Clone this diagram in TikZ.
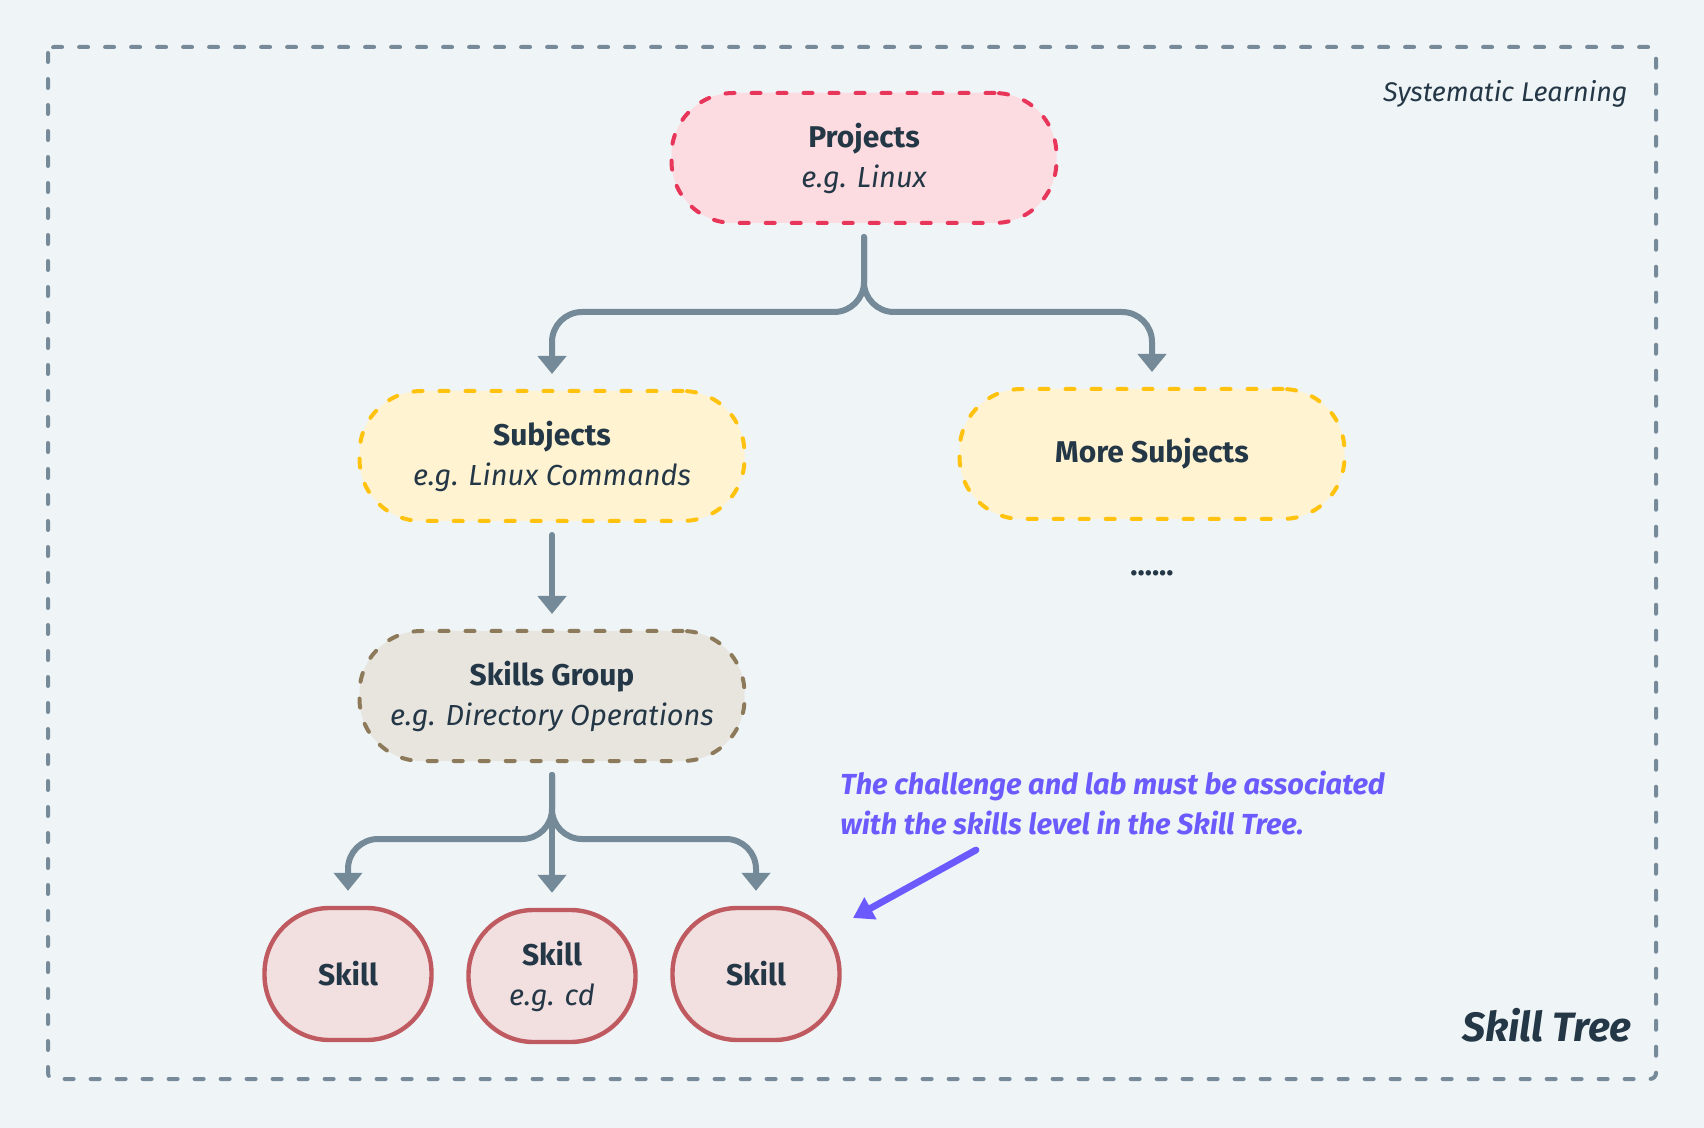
\documentclass[tikz,border=0pt]{standalone}
\usepackage{fontspec}
\setmainfont{Fira Sans}
\usetikzlibrary{arrows.meta}
\definecolor{bgc}{HTML}{EFF4F7}
\definecolor{framec}{HTML}{778A99}
\definecolor{connc}{HTML}{758A98}
\definecolor{darkc}{HTML}{243746}
\definecolor{projfill}{HTML}{FDDCE1}
\definecolor{projdraw}{HTML}{E8365A}
\definecolor{subjfill}{HTML}{FFF3D1}
\definecolor{subjdraw}{HTML}{FFC20E}
\definecolor{sgfill}{HTML}{E8E5DF}
\definecolor{sgdraw}{HTML}{8C7A5B}
\definecolor{skfill}{HTML}{F2DFE0}
\definecolor{skdraw}{HTML}{BF5B60}
\definecolor{notec}{HTML}{6B5BFF}
\newcommand\nlab[1]{{\bfseries #1}}
\newcommand\nsub[1]{{\fontsize{14.5}{20}\selectfont\itshape #1}}
\tikzset{
  bigbox/.style={rectangle, rounded corners=31pt, minimum width=192.5pt, minimum height=65pt,
    line width=2pt, dash pattern=on 4.5pt off 8.5pt, line cap=round, align=center,
    text=darkc, inner sep=0pt, font=\fontsize{15}{20}\selectfont},
  projbox/.style={bigbox, draw=projdraw, fill=projfill},
  subjbox/.style={bigbox, draw=subjdraw, fill=subjfill},
  sgbox/.style={bigbox, draw=sgdraw, fill=sgfill},
  skillbox/.style={rectangle, rounded corners=32.5pt, minimum width=83.5pt, minimum height=66pt,
    line width=2.2pt, draw=skdraw, fill=skfill, align=center, text=darkc, inner sep=0pt,
    font=\fontsize{15}{20}\selectfont},
  conn/.style={draw=connc, line width=3pt, line cap=round, rounded corners=15pt,
    -{Triangle[width=14pt,length=9pt]}, shorten <=6pt, shorten >=7.5pt},
  notearrow/.style={draw=notec, line width=3.4pt, line cap=round,
    -{Triangle[width=12pt,length=10pt]}},
  frame/.style={draw=framec, line width=2pt, dash pattern=on 4.5pt off 8.5pt,
    line cap=round, rounded corners=3pt}
}
\begin{document}
\begin{tikzpicture}[x=0.5pt,y=-0.5pt]
\fill[bgc] (0,0) rectangle (1704,1128);
\useasboundingbox (0,0) rectangle (1704,1128);
\draw[frame] (48,47) rectangle (1656,1079);

\node[projbox] (proj) at (864,158) {\nlab{Projects}\\\nsub{e.g. Linux}};
\node[subjbox] (subj) at (552,456) {\nlab{Subjects}\\\nsub{e.g. Linux Commands}};
\node[subjbox] (more) at (1152,454) {\nlab{More Subjects}};
\node[sgbox] (sg) at (552,696) {\nlab{Skills Group}\\\nsub{e.g. Directory Operations}};
\node[skillbox] (sk1) at (348,974) {\nlab{Skill}};
\node[skillbox] (sk2) at (552,976) {\nlab{Skill}\\\nsub{e.g. cd}};
\node[skillbox] (sk3) at (756,974) {\nlab{Skill}};

\node[text=darkc, font=\fontsize{15}{18}\selectfont\bfseries, inner sep=0pt] (dots) at (1152,573) {......};

\coordinate (j1) at (864,312);
\coordinate (j2) at (552,839);
\draw[conn] (proj.south) -- (j1) -| (subj.north);
\draw[conn] (proj.south) -- (j1) -| (more.north);
\draw[conn] (subj.south) -- (sg.north);
\draw[conn] (sg.south) -- (j2) -| (sk1.north);
\draw[conn] (sg.south) -- (j2) -| (sk3.north);
\draw[conn] (sg.south) -- (sk2.north);

\node[anchor=west, align=left, inner sep=0pt, text=notec,
  font=\fontsize{14.5}{20}\selectfont\bfseries\itshape] (note) at (840,803)
  {The challenge and lab must be associated\\with the skills level in the Skill Tree.};
\coordinate (a1) at (976,850);
\coordinate (a2) at (853,918);
\draw[notearrow] (a1) -- (a2);

\node[anchor=base east, inner sep=0pt, text=darkc, font=\fontsize{13.5}{16}\selectfont\itshape]
  (sys) at (1628,102) {Systematic Learning};
\node[anchor=base east, inner sep=0pt, text=darkc, font=\fontsize{20.5}{24}\selectfont\bfseries\itshape]
  (tree) at (1632,1041) {Skill Tree};
\end{tikzpicture}
\end{document}
